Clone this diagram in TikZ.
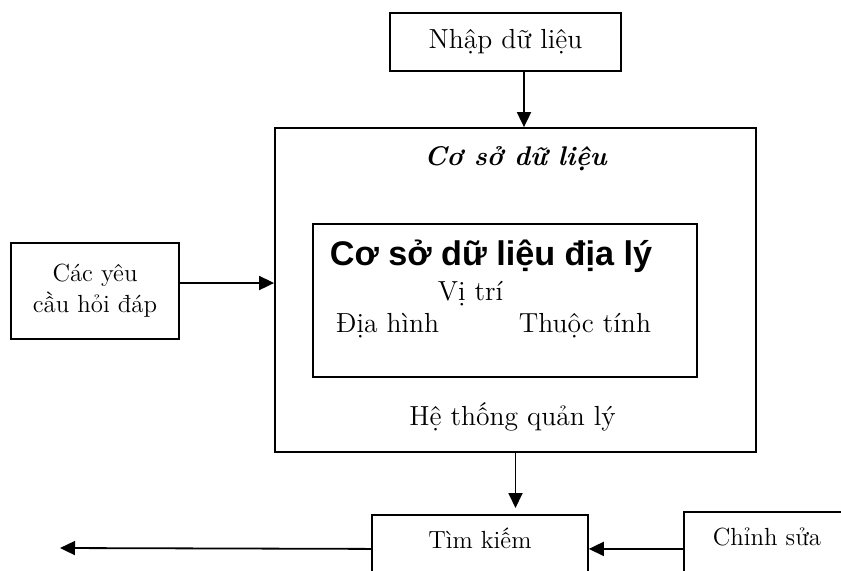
\documentclass[tikz,border=0pt]{standalone}
\usepackage{fontspec}
\usepackage{tikz}
\usetikzlibrary{positioning,arrows.meta}
\newfontfamily\titlefont{Liberation Sans}

\begin{document}
\begin{tikzpicture}[x=0.5pt,y=-0.5pt,line width=0.9pt,
  every node/.append style={font=\fontsize{13.8}{16}\selectfont}]
  \tikzstyle{box} = [draw,rectangle,inner sep=0pt]
  \tikzstyle{small} = [font=\fontsize{12.4}{15.5}\selectfont]
  \tikzstyle{cutbox} = [box,small,anchor=north west,text height=9pt,text depth=30pt,inner ysep=8pt]
  \tikzstyle{arr} = [-{Triangle[length=7.5pt,width=7pt]}]
  \useasboundingbox (0,0) rectangle (841,570);
  \clip (0,0) rectangle (841,570);
  % boxes
  \node (nhap) [box,minimum width=115.5pt,minimum height=29pt] at (505.5,41.7) {Nhập dữ liệu};
  \node (csdl) [box,minimum width=240.5pt,minimum height=162pt] at (515.5,290) {};
  \node (geo) [box,minimum width=192pt,minimum height=76.5pt] at (505,300.5) {};
  \node (hoi) [box,small,align=center,minimum width=84pt,minimum height=48pt] at (95,291) {Các yêu\\cầu hỏi đáp};
  \node (tim) [cutbox,minimum width=108pt] at (371,514) {Tìm kiếm};
  \node (sua) [cutbox,inner xsep=14.5pt] at (683,511) {Chỉnh sửa};
  % texts
  \node (csdl_t) [anchor=base,font=\fontsize{13.5}{16}\selectfont\bfseries\itshape] at (515.5,165) {Cơ sở dữ liệu};
  \node (geo_t) [anchor=base,font=\titlefont\fontsize{17.1}{20}\selectfont\bfseries] at (491,265) {Cơ sở dữ liệu địa lý};
  \node (vitri) [anchor=base west,inner sep=0pt] at (437,300) {Vị trí};
  \node (diahinh) [anchor=base west,inner sep=0pt] at (335,332) {Địa hình};
  \node (thuoctinh) [anchor=base west,inner sep=0pt] at (518,332) {Thuộc tính};
  \node (hethong) [anchor=base] at (512.5,425) {Hệ thống quản lý};
  \coordinate (ra) at (60,548);
  % arrows
  \draw[arr] ([xshift=9.25pt]nhap.south) -- ([xshift=9.25pt]nhap.south |- csdl.north);
  \draw[arr] ([yshift=4pt]hoi.east) -- ([yshift=4pt]hoi.east -| csdl.west);
  \draw[arr,shorten >=3pt] (csdl.south) -- (csdl.south |- tim.north);
  \draw[arr] (tim.base west) -- (ra);
  \draw[arr] (tim.base east -| sua.west) -- (tim.base east);
\end{tikzpicture}
\end{document}
